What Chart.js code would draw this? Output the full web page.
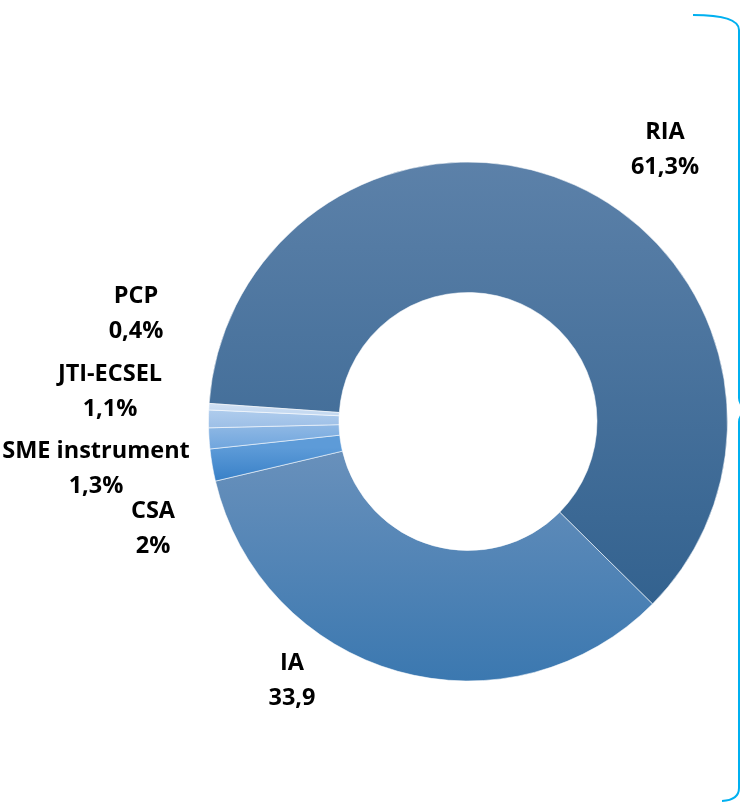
<!DOCTYPE html>
<html>
<head>
<meta charset="utf-8">
<script src="https://cdn.jsdelivr.net/npm/chart.js@4/dist/chart.umd.min.js"></script>
<style>
  html, body { margin: 0; padding: 0; background: #fff; }
  #wrap { width: 740px; height: 803px; position: relative; }
</style>
</head>
<body>
<div id="wrap"><canvas id="donut"></canvas></div>
<script>
// instrument types and their share of funding (%)
const categories = ["RIA", "IA", "CSA", "SME instrument", "JTI-ECSEL", "PCP"];
const shares = [61.3, 33.9, 2, 1.3, 1.1, 0.4];
const shareLabels = ["61,3%", "33,9", "2%", "1,3%", "1,1%", "0,4%"];

// gradient stops per slice: [fraction of chart height, colour]
const sliceStops = [
  [[0, "#5c81a9"], [0.85, "#33628f"], [1, "#31608c"]],
  [[0.56, "#6890bb"], [1, "#3b78b0"]],
  [[0.55, "#5d9bd8"], [0.61, "#3b82c8"]],
  [[0.51, "#8db7e4"], [0.56, "#6aa2dc"]],
  [[0.47, "#b3cfee"], [0.51, "#9ec0e7"]],
  [[0.46, "#d6e4f5"], [0.48, "#c6daf1"]]
];

// where each label sits, relative to the doughnut centre (px)
const labelPos = [[197, -272], [-176, 259], [-315, 107], [-372, 47], [-358, -30], [-332, -108]];
const lineGap = 35;

function sliceColor(c) {
  const area = c.chart.chartArea;
  if (!area) return "#4a7ab0";
  const g = c.chart.ctx.createLinearGradient(0, area.top, 0, area.bottom);
  sliceStops[c.dataIndex].forEach(s => g.addColorStop(s[0], s[1]));
  return g;
}

const labelPlugin = {
  id: "sliceLabels",
  afterDraw(chart) {
    const ctx = chart.ctx;
    const arc = chart.getDatasetMeta(0).data[0];
    const cx = arc.x, cy = arc.y;
    ctx.save();
    ctx.fillStyle = "#000";
    ctx.font = 'bold 23.5px "Open Sans"';
    ctx.textAlign = "center";
    ctx.textBaseline = "middle";
    categories.forEach((name, i) => {
      const x = cx + labelPos[i][0], y = cy + labelPos[i][1];
      ctx.fillText(name, x, y - lineGap / 2);
      ctx.fillText(shareLabels[i], x, y + lineGap / 2);
    });
    ctx.restore();
  }
};

// curly bracket along the right edge
const bracketPlugin = {
  id: "bracket",
  afterDraw(chart) {
    const ctx = chart.ctx;
    ctx.save();
    ctx.strokeStyle = "#00b0f0";
    ctx.lineWidth = 2;
    ctx.beginPath();
    ctx.moveTo(693, 15);
    ctx.quadraticCurveTo(739, 15, 739, 30);
    ctx.lineTo(739, 398);
    ctx.quadraticCurveTo(739, 404, 746, 410);
    ctx.moveTo(746, 410);
    ctx.quadraticCurveTo(739, 416, 739, 422);
    ctx.lineTo(739, 788);
    ctx.quadraticCurveTo(739, 800, 722, 801);
    ctx.stroke();
    ctx.restore();
  }
};

new Chart(document.getElementById("donut"), {
  type: "doughnut",
  data: {
    labels: categories,
    datasets: [{
      data: shares,
      backgroundColor: sliceColor,
      borderColor: "rgba(255,255,255,0.55)",
      borderWidth: 1
    }]
  },
  options: {
    responsive: true,
    maintainAspectRatio: false,
    animation: false,
    rotation: 274,
    cutout: 129,
    layout: { padding: { left: 208, right: 12, top: 161, bottom: 121 } },
    plugins: {
      legend: { display: false },
      tooltip: { enabled: false }
    }
  },
  plugins: [labelPlugin, bracketPlugin]
});
</script>
</body>
</html>
